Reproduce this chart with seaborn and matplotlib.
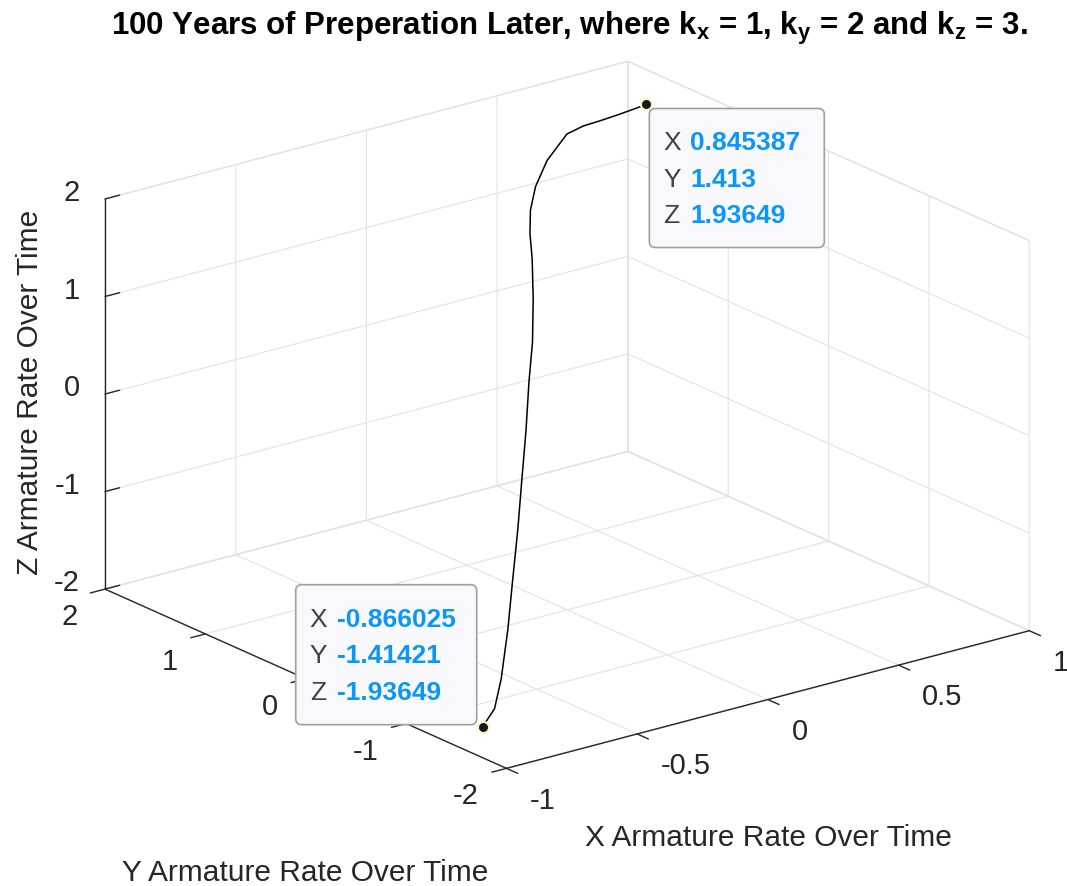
import numpy as np
import pandas as pd
import seaborn as sns
import matplotlib
matplotlib.use("Agg")
import matplotlib.pyplot as plt
from matplotlib.patches import FancyBboxPatch
from matplotlib.transforms import IdentityTransform
from mpl_toolkits.mplot3d import proj3d

# ---------------- data ----------------
x_rate = [-0.866, -0.793, -0.715, -0.600, -0.491, -0.381, -0.275, -0.168, -0.065,
          0.021, 0.104, 0.175, 0.217, 0.262, 0.323, 0.410, 0.526, 0.595, 0.661, 0.740, 0.845]
y_rate = [-1.414, -1.342, -1.205, -0.972, -0.736, -0.500, -0.264, -0.027, 0.211,
          0.400, 0.609, 0.804, 0.936, 1.048, 1.156, 1.268, 1.372, 1.390, 1.394, 1.401, 1.413]
z_rate = [-1.936, -1.837, -1.650, -1.330, -1.008, -0.685, -0.361, -0.037, 0.289,
          0.548, 0.833, 1.100, 1.281, 1.434, 1.582, 1.736, 1.878, 1.903, 1.908, 1.918, 1.936]

x_ticks = [-1, -0.5, 0, 0.5, 1]
x_tick_labels = ["-1", "-0.5", "0", "0.5", "1"]
y_ticks = [-2, -1, 0, 1, 2]
y_tick_labels = ["-2", "-1", "0", "1", "2"]
z_ticks = [-2, -1, 0, 1, 2]
z_tick_labels = ["-2", "-1", "0", "1", "2"]

tip_start = [-0.866025, -1.41421, -1.93649]
tip_start_text = ["-0.866025", "-1.41421", "-1.93649"]
tip_end = [0.845387, 1.413, 1.93649]
tip_end_text = ["0.845387", "1.413", "1.93649"]

df = pd.DataFrame({"x": x_rate, "y": y_rate, "z": z_rate})

# ---------------- style ----------------
sns.set_theme(style="white")
plt.rcParams["font.family"] = ["Liberation Sans", "DejaVu Sans"]
plt.rcParams["mathtext.fontset"] = "custom"
plt.rcParams["mathtext.rm"] = "Liberation Sans"
plt.rcParams["mathtext.bf"] = "Liberation Sans:bold"
plt.rcParams["mathtext.it"] = "Liberation Sans:italic"
GRID = "#e3e3e3"
AXC = "#262626"
plt.rcParams["grid.color"] = GRID
plt.rcParams["grid.linewidth"] = 0.8

W, H = 1067, 887
fig = plt.figure(figsize=(W / 100, H / 100), dpi=100)
fig.patch.set_facecolor("white")
ax = fig.add_axes([0.05, 0.05, 0.9, 0.9], projection="3d")
ax.set_proj_type("ortho")
ax.view_init(elev=20.05, azim=-127.52)
box = (1.0, 1.0, 0.630)

ax.plot(df["x"], df["y"], df["z"], color="black", lw=1.1)
ax.plot([tip_start[0], tip_end[0]], [tip_start[1], tip_end[1]], [tip_start[2], tip_end[2]],
        linestyle="none", marker="o", ms=8, mfc="#1a1a1a", mec="#fbf7c8", mew=1.5, zorder=10)

ax.set_xlim(-1, 1)
ax.set_ylim(-2, 2)
ax.set_zlim(-2, 2)
ax.set_xticks(x_ticks)
ax.set_yticks(y_ticks)
ax.set_zticks(z_ticks)

for axis in (ax.xaxis, ax.yaxis, ax.zaxis):
    axis.set_pane_color((1, 1, 1, 1))
    axis.pane.set_edgecolor(GRID)
    axis._axinfo["grid"].update(color=GRID, linewidth=0.8)
    axis._axinfo["tick"]["linewidth"] = {True: 1.0, False: 0.5}
    axis._axinfo["axisline"]["color"] = AXC
    axis.line.set_color(AXC)
    axis.line.set_linewidth(1.0)
ax.xaxis._axinfo["tick"].update(inward_factor=0.35, outward_factor=0.0)
ax.yaxis._axinfo["tick"].update(inward_factor=0.35, outward_factor=0.0)
ax.zaxis._axinfo["tick"].update(inward_factor=0.0, outward_factor=0.35)
ax.tick_params(axis="x", colors=AXC, labelcolor="none")
ax.tick_params(axis="y", colors=AXC, labelcolor="none")
ax.tick_params(axis="z", colors=AXC, labelcolor="none")
ax.grid(True)


def to_px(x, y, z):
    xs, ys, _ = proj3d.proj_transform(np.atleast_1d(float(x)), np.atleast_1d(float(y)),
                                      np.atleast_1d(float(z)), ax.get_proj())
    return ax.transData.transform(np.column_stack([xs, ys]))[0]


# fit the projected box to the reference frame
tgt_L = (105.0, H - 590.0)
tgt_R = (1029.3, H - 631.7)
tgt_C = (567.15, H - 415.85)
zoom = 1.0
side = 860.0
cx, cy = tgt_C
for _ in range(4):
    ax.set_position([(cx - side / 2) / W, (cy - side / 2) / H, side / W, side / H])
    ax.set_box_aspect(box, zoom=zoom)
    fig.canvas.draw()
    L = to_px(-1, 2, -2)
    R = to_px(1, -2, -2)
    C = to_px(0, 0, 0)
    zoom *= (tgt_R[0] - tgt_L[0]) / (R[0] - L[0])
    cx += tgt_C[0] - C[0]
    cy += tgt_C[1] - C[1]
ax.set_position([(cx - side / 2) / W, (cy - side / 2) / H, side / W, side / H])
ax.set_box_aspect(box, zoom=zoom)
fig.canvas.draw()

# ---------------- tick labels (MATLAB-style placement) ----------------
TICK_FS = 21
for v, s in zip(x_ticks, x_tick_labels):
    px, py = to_px(v, -2, -2)
    fig.text(px + 23.5, py - 31.3, s, transform=IdentityTransform(), ha="left", va="center",
             fontsize=TICK_FS, color=AXC)
for v, s in zip(y_ticks, y_tick_labels):
    px, py = to_px(-1, v, -2)
    fig.text(px - 27.5, py - 27.0, s, transform=IdentityTransform(), ha="right", va="center",
             fontsize=TICK_FS, color=AXC)
for v, s in zip(z_ticks, z_tick_labels):
    px, py = to_px(-1, 2, v)
    fig.text(px - 25.0, py + 7.0, s, transform=IdentityTransform(), ha="right", va="center",
             fontsize=TICK_FS, color=AXC)

# ---------------- titles / labels ----------------
fig.text(569 / W, 1 - 28 / H,
         r"100 Years of Preperation Later, where k$_\mathbf{x}$ = 1, k$_\mathbf{y}$ = 2 and k$_\mathbf{z}$ = 3.",
         ha="center", va="center", fontsize=22.5, fontweight="bold", color="black")
fig.text(768 / W, 1 - 838 / H, "X Armature Rate Over Time", ha="center", va="center",
         fontsize=21.5, color=AXC)
fig.text(305 / W, 1 - 873 / H, "Y Armature Rate Over Time", ha="center", va="center",
         fontsize=21.5, color=AXC)
fig.text(30 / W, 1 - 392 / H, "Z Armature Rate Over Time", ha="center", va="center",
         rotation=90, fontsize=21.5, color=AXC)


# ---------------- data tips ----------------
def datatip(pt, texts, where):
    px, py = to_px(*pt)
    if where == "end":
        w, h = 175, 139
        left = px + 3
        top = py - 4
    else:
        w, h = 181, 140
        left = px - 6 - w
        top = py + 2 + h
    patch = FancyBboxPatch((left, top - h), w, h,
                           boxstyle="round,pad=0,rounding_size=6",
                           facecolor="#f9f9fd", edgecolor="#a0a0a0", lw=1.2,
                           transform=IdentityTransform(), zorder=20)
    fig.add_artist(patch)
    for i, (name, val) in enumerate(zip(["X", "Y", "Z"], texts)):
        yy = top - 34 - 36.5 * i
        fig.text(left + 14, yy, name, transform=IdentityTransform(), ha="left", va="center",
                 fontsize=19, color="#404040", zorder=21)
        fig.text(left + 41, yy, val, transform=IdentityTransform(), ha="left", va="center",
                 fontsize=19, fontweight="bold", color="#0a97fb", zorder=21)


datatip(tip_end, tip_end_text, "end")
datatip(tip_start, tip_start_text, "start")

fig.savefig("out.png", dpi=100)
